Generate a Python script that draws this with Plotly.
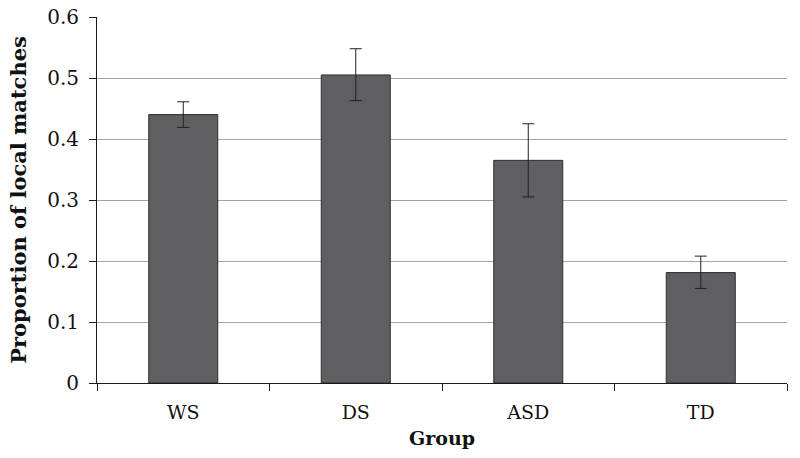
import plotly.graph_objects as go

# Values
groups = ["WS", "DS", "ASD", "TD"]
proportion = [0.44, 0.505, 0.365, 0.181]
err_plus = [0.021, 0.043, 0.060, 0.027]
err_minus = [0.021, 0.042, 0.060, 0.026]

font_family = "DejaVu Serif, Liberation Serif, serif"

# Bar trace with asymmetric error bars
trace_bars = go.Bar(
    x=groups,
    y=proportion,
    marker=dict(
        color="#5f5f62",
        line=dict(color="#2e2e2e", width=1)
    ),
    error_y=dict(
        type="data",
        symmetric=False,
        array=err_plus,
        arrayminus=err_minus,
        color="#222222",
        thickness=1,
        width=6
    ),
    hoverinfo="y"
)

fig = go.Figure(data=[trace_bars])

# Configure axes and layout
fig.update_layout(
    width=800,
    height=458,
    margin=dict(l=97, r=13, t=17, b=75),
    paper_bgcolor="white",
    plot_bgcolor="white",
    bargap=0.6,
    showlegend=False,
    font=dict(family=font_family, size=19, color="#111111")
)
fig.update_xaxes(
    title=dict(text="<b>Group</b>", standoff=9, font=dict(size=19)),
    automargin=False,
    showline=True,
    linecolor="#1a1a1a",
    linewidth=1,
    ticks="outside",
    tickson="boundaries",
    ticklen=7,
    tickcolor="#1a1a1a",
    ticklabelstandoff=12,
    showgrid=False,
    tickfont=dict(size=19)
)
fig.update_yaxes(
    title=dict(text="<b>Proportion of local matches</b>", standoff=14, font=dict(size=21)),
    automargin=False,
    range=[0, 0.6],
    dtick=0.1,
    tickformat="~g",
    showline=True,
    linecolor="#1a1a1a",
    linewidth=1,
    ticks="outside",
    ticklen=7,
    tickcolor="#1a1a1a",
    ticklabelstandoff=6,
    showgrid=True,
    gridcolor="#a3a3a3",
    gridwidth=1,
    zeroline=False,
    tickfont=dict(size=20)
)

# Drop the default page margin so the figure sits at the window's corner
fig.write_html("out.html", config={"displayModeBar": False},
               post_script="document.body.style.margin='0';")
